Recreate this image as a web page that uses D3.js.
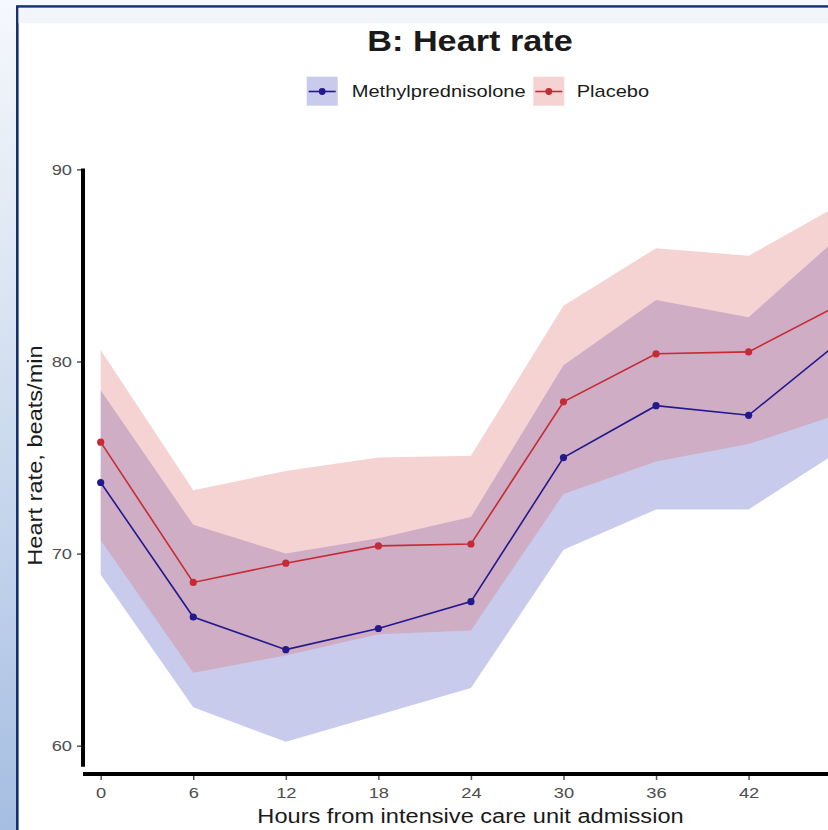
<!DOCTYPE html>
<meta charset="utf-8">

<style type="text/css">
	body {
		margin: 0;
		background: #ffffff;
	}
	svg {
		display: block;
	}
	text {
		font-family: "Liberation Sans", Arial, sans-serif;
	}
	.tick text {
		fill: #4d4d4d;
		font-size: 15.5px;
	}
	.tick line {
		stroke: #555;
		stroke-width: 1.5px;
	}
	.band {
		stroke: none;
	}
	.mean-line {
		fill: none;
		stroke-width: 1.6px;
	}
</style>

<body>

</body>

<script src="https://d3js.org/d3.v7.min.js"></script>

<script>

	// values (beats/min)
	var hours = [0, 6, 12, 18, 24, 30, 36, 42, 48];

	var methylMean  = [73.7, 66.7, 65.0, 66.1, 67.5, 75.0, 77.7, 77.2, 81.1];
	var methylLower = [68.9, 62.0, 60.2, 61.6, 63.0, 70.2, 72.3, 72.3, 75.4];
	var methylUpper = [78.5, 71.5, 70.0, 70.8, 71.9, 79.8, 83.2, 82.3, 86.6];

	var placeboMean  = [75.8, 68.5, 69.5, 70.4, 70.5, 77.9, 80.4, 80.5, 83.0];
	var placeboLower = [70.7, 63.8, 64.7, 65.8, 66.0, 73.1, 74.8, 75.7, 77.3];
	var placeboUpper = [80.6, 73.3, 74.3, 75.0, 75.1, 82.9, 85.9, 85.5, 88.2];

	// the 48 h label falls outside the cropped picture
	var xTicks = [0, 6, 12, 18, 24, 30, 36, 42];
	var yTicks = [60, 70, 80, 90];
	var groupNames = ["Methylprednisolone", "Placebo"];

	var width = 828;
	var height = 830;

	// the source picture is a bit wider than tall, so text is stretched to match
	var STRETCH = 1.18;

	var groups = [
		{name: groupNames[0], mean: methylMean, lower: methylLower, upper: methylUpper,
			line: "#22198c", fill: "#4b52c0", fillOpacity: 0.3},
		{name: groupNames[1], mean: placeboMean, lower: placeboLower, upper: placeboUpper,
			line: "#c62a35", fill: "#e06060", fillOpacity: 0.28}
	];

	function stretch(sel) {
		sel.each(function() {
			var len = this.getComputedTextLength();
			d3.select(this)
				.attr("textLength", len * STRETCH)
				.attr("lengthAdjust", "spacingAndGlyphs");
		});
	}

	var svg = d3.select("body").append("svg")
		.attr("width", width)
		.attr("height", height);

	var defs = svg.append("defs");
	var grad = defs.append("linearGradient")
		.attr("id", "bg-grad")
		.attr("x1", 0).attr("y1", 0)
		.attr("x2", 0).attr("y2", 1);
	grad.append("stop").attr("offset", "0%").attr("stop-color", "#f5f8fc");
	grad.append("stop").attr("offset", "45%").attr("stop-color", "#d3dff0");
	grad.append("stop").attr("offset", "100%").attr("stop-color", "#a6bee2");

	// outer frame
	svg.append("rect")
		.attr("width", width)
		.attr("height", height)
		.attr("fill", "url(#bg-grad)");

	svg.append("rect")
		.attr("x", 17.3)
		.attr("y", 6.5)
		.attr("width", width + 20)
		.attr("height", height + 20)
		.attr("fill", "#ffffff")
		.attr("stroke", "#14306e")
		.attr("stroke-width", 2.6);

	svg.append("rect")
		.attr("x", 18.6)
		.attr("y", 7.8)
		.attr("width", width)
		.attr("height", 15.5)
		.attr("fill", "#f2f5f9");

	// scales
	var xScale = d3.scaleLinear()
		.domain([0, 42])
		.range([100.7, 748.6]);

	var yScale = d3.scaleLinear()
		.domain([60, 90])
		.range([745.7, 169.4]);

	// bands
	groups.forEach(function(g) {
		var area = d3.area()
			.x(function(d, i) { return xScale(hours[i]); })
			.y0(function(d, i) { return yScale(g.lower[i]); })
			.y1(function(d, i) { return yScale(g.upper[i]); });

		svg.append("path")
			.datum(hours)
			.attr("class", "band")
			.attr("fill", g.fill)
			.attr("fill-opacity", g.fillOpacity)
			.attr("d", area);
	});

	// mean lines and points
	groups.forEach(function(g) {
		var line = d3.line()
			.x(function(d, i) { return xScale(hours[i]); })
			.y(function(d, i) { return yScale(g.mean[i]); });

		svg.append("path")
			.datum(hours)
			.attr("class", "mean-line")
			.attr("stroke", g.line)
			.attr("d", line);

		svg.selectAll(null)
			.data(hours)
			.enter()
			.append("circle")
			.attr("r", 3.6)
			.attr("fill", g.line)
			.attr("cx", function(d) { return xScale(d); })
			.attr("cy", function(d, i) { return yScale(g.mean[i]); });
	});

	// axes
	var yAxis = d3.axisLeft(yScale)
		.tickValues(yTicks)
		.tickSize(4)
		.tickPadding(5);

	var yG = svg.append("g")
		.attr("class", "y axis")
		.attr("transform", "translate(81,0)")
		.call(yAxis);
	yG.select(".domain").remove();
	yG.selectAll(".tick text").call(stretch);

	var xAxis = d3.axisBottom(xScale)
		.tickValues(xTicks)
		.tickSize(4)
		.tickPadding(6.6);

	var xG = svg.append("g")
		.attr("class", "x axis")
		.attr("transform", "translate(0,776)")
		.call(xAxis);
	xG.select(".domain").remove();
	xG.selectAll(".tick text").call(stretch);

	svg.append("line")
		.attr("x1", 83).attr("x2", 83)
		.attr("y1", yScale(90) - 1).attr("y2", yScale(58.9))
		.attr("stroke", "#000")
		.attr("stroke-width", 4);

	svg.append("line")
		.attr("x1", 83).attr("x2", width + 10)
		.attr("y1", 774).attr("y2", 774)
		.attr("stroke", "#000")
		.attr("stroke-width", 4);

	// titles
	svg.append("text")
		.attr("x", 470)
		.attr("y", 51)
		.attr("text-anchor", "middle")
		.style("font-size", "29px")
		.style("font-weight", "bold")
		.attr("fill", "#1a1a1a")
		.text("B: Heart rate")
		.call(stretch);

	svg.append("text")
		.attr("x", 470.5)
		.attr("y", 823)
		.attr("text-anchor", "middle")
		.style("font-size", "20px")
		.attr("fill", "#1a1a1a")
		.text("Hours from intensive care unit admission")
		.call(stretch);

	svg.append("text")
		.attr("transform", "translate(42,455.5) rotate(-90)")
		.attr("text-anchor", "middle")
		.style("font-size", "20px")
		.attr("fill", "#1a1a1a")
		.text("Heart rate, beats/min")
		.call(stretch);

	// legend
	var legendX = [306.7, 533.3];

	groups.forEach(function(g, i) {
		var lg = svg.append("g")
			.attr("transform", "translate(" + legendX[i] + ",76.7)");

		lg.append("rect")
			.attr("width", 31)
			.attr("height", 29)
			.attr("fill", g.fill)
			.attr("fill-opacity", g.fillOpacity);

		lg.append("line")
			.attr("x1", 2).attr("x2", 29)
			.attr("y1", 14.8).attr("y2", 14.8)
			.attr("stroke", g.line)
			.attr("stroke-width", 1.6);

		lg.append("circle")
			.attr("cx", 15.5)
			.attr("cy", 14.8)
			.attr("r", 3.4)
			.attr("fill", g.line);

		lg.append("text")
			.attr("x", i == 0 ? 45 : 43.4)
			.attr("y", 20.6)
			.style("font-size", "17px")
			.attr("fill", "#1a1a1a")
			.text(g.name)
			.call(stretch);
	});

</script>
